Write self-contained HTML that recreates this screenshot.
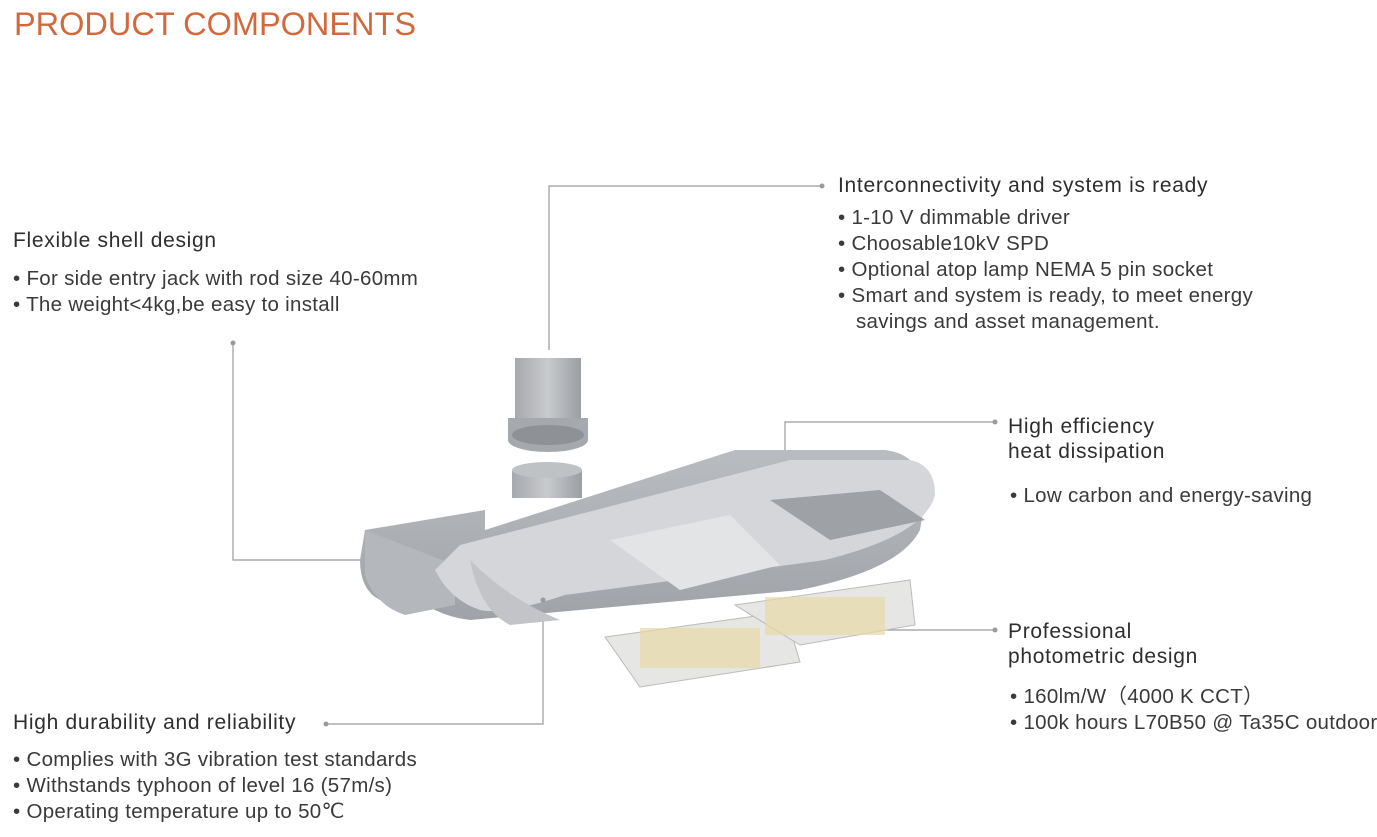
<!DOCTYPE html>
<html><head><meta charset="utf-8"><style>
body{margin:0;background:#fff;}
#c{position:relative;width:1377px;height:837px;overflow:hidden;font-family:"Liberation Sans",sans-serif;color:#3a3a3a;}
.t{position:absolute;white-space:nowrap;font-size:20.5px;line-height:26px;letter-spacing:0.3px;}
.h{font-size:21px;color:#2e2e2e;letter-spacing:0.7px;}
</style></head><body><div id="c">
<div class="t" style="left:14px;top:4px;font-size:32.5px;line-height:40px;color:#d2693e;letter-spacing:0;">PRODUCT COMPONENTS</div>

<div class="t h" style="left:838px;top:173px;">Interconnectivity and system is ready</div>
<div class="t" style="left:838px;top:205px;">• 1-10 V dimmable driver<br>• Choosable10kV SPD<br>• Optional atop lamp NEMA 5 pin socket<br>• Smart and system is ready, to meet energy<br>&nbsp;&nbsp;&nbsp;savings and asset management.</div>

<div class="t h" style="left:13px;top:228px;">Flexible shell design</div>
<div class="t" style="left:13px;top:266px;">• For side entry jack with rod size 40-60mm<br>• The weight&lt;4kg,be easy to install</div>

<div class="t h" style="left:1008px;top:414px;line-height:25px;">High efficiency<br>heat dissipation</div>
<div class="t" style="left:1010px;top:483px;">• Low carbon and energy-saving</div>

<div class="t h" style="left:1008px;top:619px;line-height:25px;">Professional<br>photometric design</div>
<div class="t" style="left:1010px;top:684px;">• 160lm/W（4000 K CCT）<br>• 100k hours L70B50 @ Ta35C outdoor</div>

<div class="t h" style="left:13px;top:710px;">High durability and reliability</div>
<div class="t" style="left:13px;top:747px;">• Complies with 3G vibration test standards<br>• Withstands typhoon of level 16 (57m/s)<br>• Operating temperature up to 50℃</div>

<svg width="1377" height="837" style="position:absolute;left:0;top:0">
<defs>
<linearGradient id="g1" x1="0" y1="0" x2="0" y2="1"><stop offset="0" stop-color="#b9bcc0"/><stop offset="1" stop-color="#9fa3a8"/></linearGradient>
<linearGradient id="g2" x1="0" y1="0" x2="1" y2="0"><stop offset="0" stop-color="#a6a9ad"/><stop offset=".5" stop-color="#c8cacd"/><stop offset="1" stop-color="#9a9ea3"/></linearGradient>
</defs>
<g fill="none" stroke="#9a9a9a" stroke-width="1.2">
<polyline points="549,350 549,186 822,186"/>
<polyline points="233,343 233,560 365,560"/>
<polyline points="785,480 785,422 995,422"/>
<polyline points="760,630 995,630"/>
<polyline points="326,724 543,724 543,600"/>
</g>
<!-- socket -->
<path d="M515,358 h66 v62 h-66z" fill="url(#g2)"/>
<path d="M508,418 h80 v22 a40,12 0 0 1 -80,0z" fill="#a5a8ac"/>
<ellipse cx="548" cy="435" rx="36" ry="10" fill="#8e9296"/>
<path d="M512,470 h70 v28 h-70z" fill="url(#g2)"/>
<ellipse cx="547" cy="470" rx="35" ry="8" fill="#bfc2c5"/>
<!-- housing -->
<path d="M365,530 l120,-20 l0,20 l250,-80 l150,0 q40,5 40,50 l-5,30 q-20,40 -120,60 l-330,30 q-40,-5 -60,-30 l-30,10 q-20,-10 -20,-40z" fill="url(#g1)"/>
<path d="M365,530 l0,45 q10,30 40,40 l50,-10 l0,-40z" fill="#b4b7bb"/>
<path d="M460,545 l330,-85 l120,0 q25,5 25,35 q-10,40 -110,65 l-260,35 q-60,20 -85,15 q-30,-10 -45,-40z" fill="#d4d6d9"/>
<path d="M470,560 q40,40 90,60 l-50,5 q-30,-15 -40,-65z" fill="#c2c4c7"/>
<path d="M610,540 l120,-25 l50,50 l-100,25z" fill="#e3e4e6"/>
<path d="M770,500 l110,-10 l45,30 l-95,20z" fill="#9ea1a5"/>
<!-- LED boards -->
<path d="M605,637 l180,-25 l15,50 l-160,25z" fill="#e6e6e4" stroke="#bbb"/>
<path d="M735,605 l175,-25 l5,45 l-115,20z" fill="#e6e6e4" stroke="#bbb"/>
<g fill="#e8d9a6">
<rect x="640" y="628" width="120" height="40" opacity=".7"/>
<rect x="765" y="597" width="120" height="38" opacity=".7"/>
</g>
<g fill="#9a9a9a">
<circle cx="233" cy="343" r="2.5"/><circle cx="822" cy="186" r="2.5"/>
<circle cx="995" cy="422" r="2.5"/><circle cx="995" cy="630" r="2.5"/>
<circle cx="326" cy="724" r="2.5"/><circle cx="543" cy="600" r="2.5"/>
</g>
</svg>
</div></body></html>
